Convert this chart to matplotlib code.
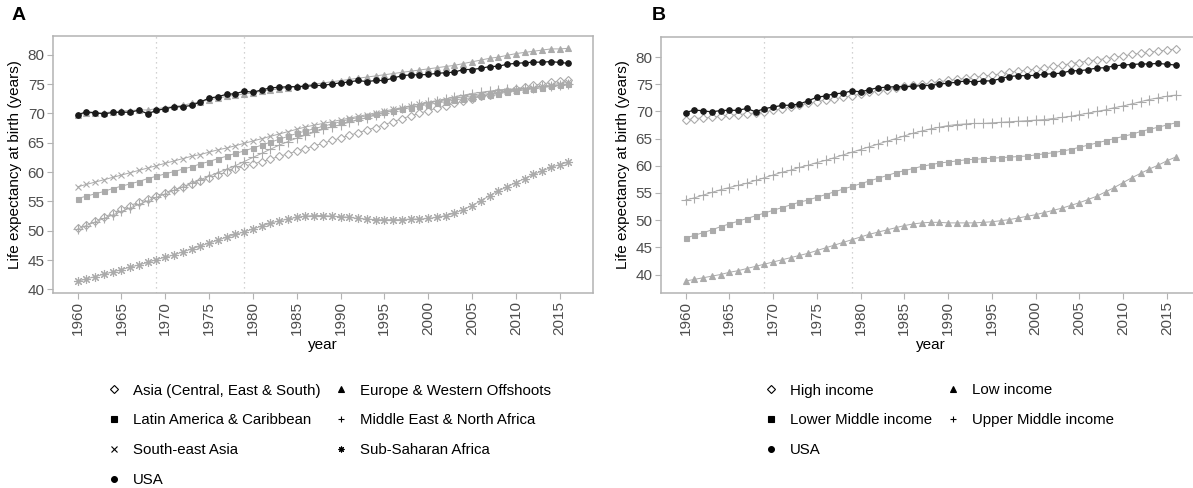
import numpy as np
import matplotlib
matplotlib.use("Agg")
import matplotlib.pyplot as plt
from matplotlib.lines import Line2D

plt.rcParams["font.family"] = ["Liberation Sans", "DejaVu Sans"]

YEARS = list(range(1960, 2017))
EVENTS = [1969, 1979]

# ── Panel A: regions ─────────────────────────────────────────────────────────
ASIA_CES = [50.4, 51.0, 51.6, 52.3, 53.0, 53.7, 54.3, 54.9, 55.5, 56.0,
            56.5, 57.0, 57.5, 58.0, 58.5, 59.0, 59.5, 60.0, 60.5, 61.0,
            61.4, 61.8, 62.2, 62.7, 63.1, 63.6, 64.0, 64.5, 64.9, 65.4,
            65.8, 66.3, 66.7, 67.2, 67.6, 68.1, 68.6, 69.1, 69.6, 70.0,
            70.5, 70.9, 71.3, 71.7, 72.1, 72.5, 72.9, 73.2, 73.6, 73.9,
            74.2, 74.5, 74.8, 75.0, 75.3, 75.5, 75.7]
EUROPE_WO = [69.8, 70.0, 70.1, 70.1, 70.3, 70.4, 70.5, 70.6, 70.6, 70.8,
             71.0, 71.2, 71.4, 71.7, 72.0, 72.3, 72.6, 72.9, 73.1, 73.3,
             73.5, 73.8, 74.0, 74.2, 74.4, 74.6, 74.8, 75.0, 75.2, 75.4,
             75.6, 75.8, 76.0, 76.2, 76.4, 76.6, 76.8, 77.0, 77.2, 77.4,
             77.6, 77.8, 78.0, 78.2, 78.5, 78.8, 79.1, 79.4, 79.6, 79.9,
             80.2, 80.4, 80.6, 80.8, 81.0, 81.0, 81.1]
LATAM = [55.5, 55.9, 56.3, 56.7, 57.2, 57.6, 58.0, 58.4, 58.9, 59.3,
         59.7, 60.1, 60.5, 60.9, 61.4, 61.8, 62.3, 62.7, 63.2, 63.6,
         64.1, 64.6, 65.1, 65.6, 66.1, 66.6, 67.0, 67.4, 67.8, 68.2,
         68.6, 69.0, 69.3, 69.6, 69.9, 70.2, 70.5, 70.8, 71.0, 71.3,
         71.5, 71.8, 72.0, 72.3, 72.5, 72.7, 73.0, 73.2, 73.4, 73.6,
         73.8, 74.0, 74.2, 74.4, 74.6, 74.8, 75.0]
MENA = [50.3, 50.9, 51.5, 52.1, 52.7, 53.3, 53.9, 54.5, 55.1, 55.7,
        56.3, 56.9, 57.5, 58.1, 58.7, 59.3, 59.9, 60.5, 61.1, 61.8,
        62.5, 63.2, 63.9, 64.6, 65.2, 65.8, 66.3, 66.8, 67.3, 67.7,
        68.1, 68.5, 68.9, 69.3, 69.7, 70.1, 70.5, 70.9, 71.3, 71.6,
        71.9, 72.2, 72.5, 72.8, 73.1, 73.4, 73.6, 73.8, 74.0, 74.1,
        74.2, 74.3, 74.4, 74.6, 74.7, 74.9, 75.0]
SE_ASIA = [57.5, 57.9, 58.3, 58.7, 59.1, 59.5, 59.9, 60.3, 60.7, 61.1,
           61.5, 61.9, 62.3, 62.7, 63.0, 63.4, 63.8, 64.1, 64.5, 64.9,
           65.3, 65.7, 66.1, 66.5, 66.9, 67.3, 67.7, 68.0, 68.3, 68.6,
           68.9, 69.2, 69.5, 69.8, 70.1, 70.4, 70.7, 71.0, 71.3, 71.6,
           71.8, 72.1, 72.3, 72.6, 72.8, 73.0, 73.2, 73.4, 73.6, 73.8,
           74.0, 74.2, 74.4, 74.6, 74.9, 75.1, 75.3]
SSA = [41.4, 41.8, 42.2, 42.6, 43.0, 43.4, 43.8, 44.2, 44.6, 45.1,
       45.5, 45.9, 46.4, 46.9, 47.4, 47.9, 48.4, 48.9, 49.4, 49.8,
       50.3, 50.8, 51.3, 51.7, 52.0, 52.3, 52.5, 52.6, 52.6, 52.5,
       52.4, 52.3, 52.1, 52.0, 51.9, 51.9, 51.9, 51.9, 52.0, 52.0,
       52.1, 52.3, 52.6, 53.0, 53.6, 54.3, 55.1, 56.0, 56.8, 57.5,
       58.2, 58.9, 59.6, 60.2, 60.8, 61.3, 61.7]
USA = [69.77, 70.27, 70.12, 69.92, 70.17, 70.21, 70.21, 70.56, 69.95, 70.51,
       70.81, 71.11, 71.16, 71.36, 71.96, 72.60, 72.86, 73.26, 73.36, 73.80,
       73.61, 74.01, 74.36, 74.46, 74.56, 74.56, 74.61, 74.77, 74.77, 75.02,
       75.21, 75.37, 75.62, 75.42, 75.62, 75.62, 76.03, 76.43, 76.58, 76.58,
       76.64, 76.84, 76.94, 77.04, 77.49, 77.49, 77.69, 77.99, 78.04, 78.39,
       78.54, 78.64, 78.74, 78.74, 78.84, 78.69, 78.54]

# ── Panel B: income groups ───────────────────────────────────────────────────
HIGH_INC = [68.4, 68.7, 68.8, 68.9, 69.1, 69.3, 69.4, 69.6, 69.7, 69.9,
            70.2, 70.5, 70.8, 71.1, 71.5, 71.8, 72.1, 72.3, 72.6, 72.9,
            73.2, 73.5, 73.8, 74.0, 74.3, 74.6, 74.8, 75.0, 75.2, 75.5,
            75.7, 75.9, 76.1, 76.3, 76.5, 76.7, 76.9, 77.2, 77.4, 77.6,
            77.8, 78.0, 78.3, 78.5, 78.8, 79.0, 79.3, 79.5, 79.7, 80.0,
            80.2, 80.5, 80.7, 80.9, 81.1, 81.3, 81.5]
LOW_INC = [38.8, 39.1, 39.4, 39.7, 40.0, 40.4, 40.7, 41.1, 41.5, 41.9,
           42.3, 42.7, 43.1, 43.5, 43.9, 44.4, 44.9, 45.4, 45.9, 46.4,
           46.9, 47.4, 47.8, 48.2, 48.6, 49.0, 49.3, 49.5, 49.6, 49.6,
           49.5, 49.5, 49.5, 49.5, 49.6, 49.7, 49.9, 50.1, 50.4, 50.7,
           51.0, 51.4, 51.8, 52.2, 52.7, 53.2, 53.8, 54.4, 55.2, 56.0,
           56.9, 57.8, 58.6, 59.4, 60.1, 60.9, 61.6]
LOWER_MID = [46.7, 47.2, 47.7, 48.2, 48.8, 49.3, 49.8, 50.3, 50.8, 51.3,
             51.8, 52.3, 52.8, 53.3, 53.7, 54.2, 54.7, 55.2, 55.7, 56.2,
             56.7, 57.2, 57.7, 58.2, 58.7, 59.1, 59.5, 59.9, 60.2, 60.5,
             60.7, 60.9, 61.1, 61.2, 61.3, 61.4, 61.5, 61.6, 61.7, 61.8,
             62.0, 62.2, 62.4, 62.7, 63.0, 63.4, 63.8, 64.2, 64.6, 65.0,
             65.4, 65.8, 66.3, 66.7, 67.1, 67.5, 67.9]
UPPER_MID = [53.7, 54.1, 54.6, 55.1, 55.6, 56.0, 56.4, 56.8, 57.3, 57.8,
             58.3, 58.8, 59.2, 59.7, 60.1, 60.6, 61.0, 61.5, 62.0, 62.5,
             63.0, 63.5, 64.0, 64.5, 65.0, 65.5, 66.0, 66.4, 66.8, 67.1,
             67.4, 67.6, 67.7, 67.8, 67.8, 67.9, 68.0, 68.1, 68.2, 68.3,
             68.4, 68.5, 68.7, 68.9, 69.1, 69.4, 69.7, 70.0, 70.3, 70.7,
             71.0, 71.4, 71.8, 72.2, 72.5, 72.8, 73.0]

GREY = "#ababab"
FRAME = "#b3b3b3"
ASTERISK = (8, 2, 0)

# (label, values, marker, markersize, filled)
SERIES_A = [
    ("Asia (Central, East & South)", ASIA_CES, "D", 4.2, False),
    ("Europe & Western Offshoots", EUROPE_WO, "^", 4.5, True),
    ("Latin America & Caribbean", LATAM, "s", 3.6, True),
    ("Middle East & North Africa", MENA, "+", 6.5, True),
    ("South-east Asia", SE_ASIA, "x", 5.0, True),
    ("Sub-Saharan Africa", SSA, ASTERISK, 6.5, True),
    ("USA", USA, "o", 4.0, True),
]
SERIES_B = [
    ("High income", HIGH_INC, "D", 4.2, False),
    ("Low income", LOW_INC, "^", 4.5, True),
    ("Lower Middle income", LOWER_MID, "s", 3.6, True),
    ("Upper Middle income", UPPER_MID, "+", 6.5, True),
    ("USA", USA, "o", 4.0, True),
]

fig = plt.figure(figsize=(11.93, 4.88), dpi=100)
W, H = 1193.0, 488.0


def px_axes(x0, y0, x1, y1):
    return fig.add_axes([x0 / W, 1 - y1 / H, (x1 - x0) / W, (y1 - y0) / H])


def draw_panel(ax, series, ylim):
    for x in EVENTS:
        ax.axvline(x, color="#c4c4c4", lw=0.9, ls=(0, (1, 3)), zorder=1)
    for label, vals, marker, ms, filled in series:
        is_usa = label == "USA"
        col = "#1a1a1a" if is_usa else GREY
        face = col if filled else "white"
        ax.plot(YEARS, vals, color=col, lw=0.9 if is_usa else 0.7,
                marker=marker, ms=ms, mfc=face, mec=col, mew=0.8,
                zorder=4 if is_usa else 3)
    ax.set_xlim(1957.2, 2018.8)
    ax.set_ylim(*ylim)
    ax.set_xticks(range(1960, 2016, 5))
    ax.set_yticks(range(40, 81, 5))
    ax.tick_params(axis="x", labelrotation=90)
    ax.tick_params(colors=FRAME, labelcolor="#4d4d4d", labelsize=11,
                   length=4, width=0.8, pad=2)
    for sp in ax.spines.values():
        sp.set_color(FRAME)
        sp.set_linewidth(1.1)
    ax.set_xlabel("year", fontsize=11, labelpad=2)
    ax.set_ylabel("Life expectancy at birth (years)", fontsize=11, labelpad=4)


def legend_handles(series):
    # ggplot fills legend rows first; matplotlib fills columns first
    order = list(range(0, len(series), 2)) + list(range(1, len(series), 2))
    handles = []
    for i in order:
        label, vals, marker, ms, filled = series[i]
        face = "black" if filled else "white"
        handles.append(Line2D([], [], ls="none", marker=marker, ms=4.2,
                              mfc=face, mec="black", mew=0.8, label=label))
    return handles


ax_a = px_axes(53, 36, 593, 293)
draw_panel(ax_a, SERIES_A, (39.4, 83.2))
ax_b = px_axes(661, 37, 1200, 293)
draw_panel(ax_b, SERIES_B, (36.6, 83.7))

fig.text(12 / W, 1 - 16 / H, "A", fontsize=14, fontweight="bold", va="center")
fig.text(652 / W, 1 - 16 / H, "B", fontsize=14, fontweight="bold", va="center")

leg_kw = dict(ncol=2, frameon=False, fontsize=10.8, handlelength=1.0,
              handletextpad=0.75, labelspacing=1.05, columnspacing=0.9,
              borderpad=0, loc="upper left")
fig.legend(handles=legend_handles(SERIES_A), bbox_to_anchor=(99 / W, 1 - 376 / H), **leg_kw)
fig.legend(handles=legend_handles(SERIES_B), bbox_to_anchor=(756 / W, 1 - 376 / H), **leg_kw)

fig.savefig("out.png", dpi=100)
